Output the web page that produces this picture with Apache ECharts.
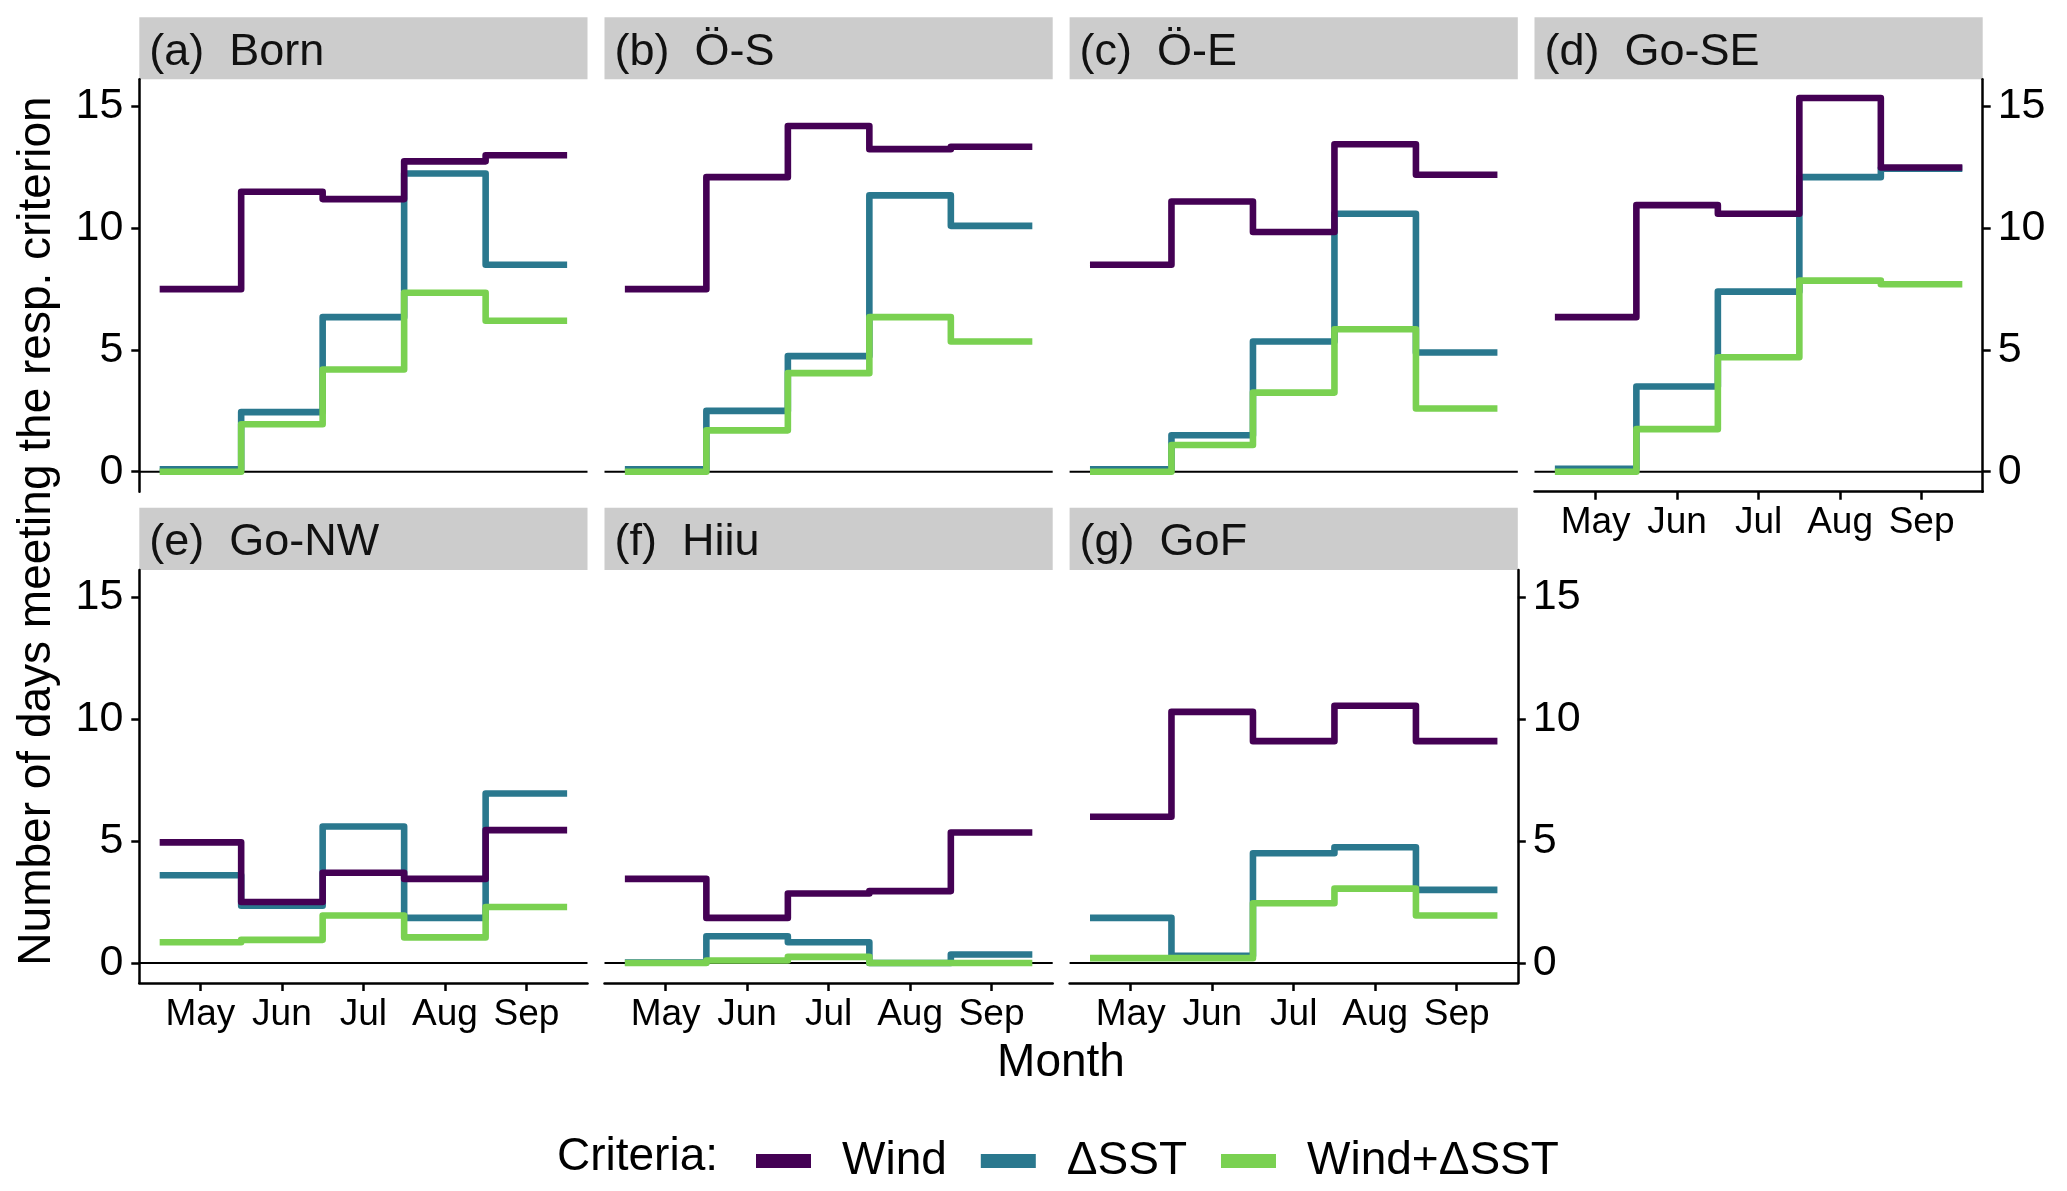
<!DOCTYPE html>
<html><head><meta charset="utf-8">
<script src="https://cdn.jsdelivr.net/npm/echarts@6/dist/echarts.min.js"></script>
<style>html,body{margin:0;padding:0;background:#fff}#c{width:2067px;height:1191px}</style>
</head><body><div id="c"></div>
<script>
// ---------- data ----------
const months = ['May', 'Jun', 'Jul', 'Aug', 'Sep'];
const criteria = ['Wind', 'ΔSST', 'Wind+ΔSST'];
const panelTitles = ['(a)  Born', '(b)  Ö-S', '(c)  Ö-E', '(d)  Go-SE', '(e)  Go-NW', '(f)  Hiiu', '(g)  GoF'];
const yTicks = [0, 5, 10, 15];

const windBorn = [7.5, 11.5, 11.2, 12.75, 13.0];
const sstBorn  = [0.1, 2.45, 6.35, 12.25, 8.5];
const bothBorn = [0, 1.95, 4.2, 7.35, 6.2];

const windOS = [7.5, 12.1, 14.2, 13.25, 13.35];
const sstOS  = [0.1, 2.5, 4.75, 11.35, 10.1];
const bothOS = [0, 1.7, 4.05, 6.35, 5.35];

const windOE = [8.5, 11.1, 9.85, 13.45, 12.2];
const sstOE  = [0.1, 1.5, 5.35, 10.6, 4.9];
const bothOE = [0, 1.1, 3.25, 5.85, 2.6];

const windGoSE = [6.35, 10.95, 10.6, 15.35, 12.5];
const sstGoSE  = [0.12, 3.5, 7.4, 12.1, 12.45];
const bothGoSE = [0, 1.75, 4.7, 7.85, 7.7];

const windGoNW = [4.95, 2.5, 3.7, 3.45, 5.45];
const sstGoNW  = [3.6, 2.35, 5.6, 1.85, 6.95];
const bothGoNW = [0.85, 0.95, 1.95, 1.05, 2.3];

const windHiiu = [3.45, 1.85, 2.85, 2.95, 5.35];
const sstHiiu  = [0.02, 1.1, 0.85, 0, 0.35];
const bothHiiu = [0, 0.1, 0.25, 0, 0];

const windGoF = [6.0, 10.3, 9.1, 10.55, 9.1];
const sstGoF  = [1.85, 0.3, 4.5, 4.75, 3.0];
const bothGoF = [0.2, 0.2, 2.45, 3.05, 1.95];

const windData = [windBorn, windOS, windOE, windGoSE, windGoNW, windHiiu, windGoF];
const sstData  = [sstBorn, sstOS, sstOE, sstGoSE, sstGoNW, sstHiiu, sstGoF];
const bothData = [bothBorn, bothOS, bothOE, bothGoSE, bothGoNW, bothHiiu, bothGoF];

// ---------- style / layout ----------
const colors = { 'Wind': '#440154', 'ΔSST': '#2A788E', 'Wind+ΔSST': '#7AD151' };
const FONT = "'Liberation Sans', Arial, Helvetica, sans-serif";
const colLeft = [139.3, 604.5, 1069.6, 1534.5];
const panelW = 448.2;
const rows = [
  { strip: 17.3, top: 79.3, bottom: 491.7 },
  { strip: 507.7, top: 570, bottom: 983 }
];
const cells = [[0, 0], [0, 1], [0, 2], [0, 3], [1, 0], [1, 1], [1, 2]];
const ySide = ['left', null, null, 'right', 'left', null, 'right'];
const hasX = [false, false, false, true, true, true, true];
const X_MIN = 0.25, X_MAX = 5.75, Y_MIN = -0.82, Y_MAX = 16.12;

function stepPoints(vals) {
  const pts = vals.map((v, i) => [i + 0.5, v]);
  pts.push([vals.length + 0.5, vals[vals.length - 1]]);
  return pts;
}

const grid = [], xAxis = [], yAxis = [], series = [], graphic = [];

cells.forEach(([r, c], p) => {
  const row = rows[r];
  grid.push({ left: colLeft[c], top: row.top, width: panelW, height: row.bottom - row.top,
              containLabel: false, outerBoundsMode: 'none' });

  xAxis.push({
    type: 'value', gridIndex: p, min: X_MIN, max: X_MAX, show: hasX[p],
    axisLine: { show: true, onZero: false, lineStyle: { color: '#000', width: 2.5 } },
    axisTick: { show: true, length: 8, customValues: [1, 2, 3, 4, 5], lineStyle: { color: '#000', width: 2.5 } },
    axisLabel: { show: true, customValues: [1, 2, 3, 4, 5], margin: 13, color: '#000',
                 fontFamily: FONT, fontSize: 37, formatter: v => months[Math.round(v) - 1] },
    splitLine: { show: false }
  });

  const side = ySide[p];
  yAxis.push({
    type: 'value', gridIndex: p, min: Y_MIN, max: Y_MAX, show: !!side, position: side || 'left',
    axisLine: { show: true, onZero: false, lineStyle: { color: '#000', width: 2.5 } },
    axisTick: { show: true, length: 8, customValues: yTicks, lineStyle: { color: '#000', width: 2.5 } },
    axisLabel: { show: true, customValues: yTicks, margin: side === 'right' ? 15 : 16, color: '#000',
                 fontFamily: FONT, fontSize: 43 },
    splitLine: { show: false }
  });

  // zero reference line (under the data lines)
  series.push({
    type: 'line', name: 'zero', xAxisIndex: p, yAxisIndex: p, z: 1, silent: true,
    symbol: 'none', data: [[X_MIN, 0], [X_MAX, 0]],
    lineStyle: { color: '#000', width: 2.2 }, color: '#000', animation: false
  });

  const byName = { 'Wind': windData[p], 'ΔSST': sstData[p], 'Wind+ΔSST': bothData[p] };
  ['ΔSST', 'Wind', 'Wind+ΔSST'].forEach(name => {
    series.push({
      type: 'line', name, xAxisIndex: p, yAxisIndex: p, z: 2, silent: true,
      step: 'end', symbol: 'none', showSymbol: false,
      data: stepPoints(byName[name]),
      color: colors[name], itemStyle: { color: colors[name] },
      lineStyle: { color: colors[name], width: 6.6, join: 'round', cap: 'butt' },
      animation: false
    });
  });

  // strip
  graphic.push({
    type: 'rect', left: colLeft[c], top: row.strip, silent: true,
    shape: { x: 0, y: 0, width: panelW, height: row.top - row.strip },
    style: { fill: '#CCCCCC' }
  });
  graphic.push({
    type: 'text', x: colLeft[c] + 10, y: (row.strip + row.top) / 2 + 4, silent: true,
    style: { text: panelTitles[p], fill: '#111', font: `45px ${FONT}`,
             textAlign: 'left', textVerticalAlign: 'middle' }
  });
});

// axis titles
graphic.push({
  type: 'text', x: 37, y: 531, rotation: Math.PI / 2, silent: true,
  style: { text: 'Number of days meeting the resp. criterion', fill: '#000',
           font: `46px ${FONT}`, textAlign: 'center', textVerticalAlign: 'middle' }
});
graphic.push({
  type: 'text', x: 1061, y: 1063, silent: true,
  style: { text: 'Month', fill: '#000', font: `46px ${FONT}`,
           textAlign: 'center', textVerticalAlign: 'middle' }
});
graphic.push({
  type: 'text', x: 557, y: 1157, silent: true,
  style: { text: 'Criteria:', fill: '#000', font: `46px ${FONT}`,
           textAlign: 'left', textVerticalAlign: 'middle' }
});

const chart = echarts.init(document.getElementById('c'), null, { renderer: 'canvas' });
chart.setOption({
  backgroundColor: '#fff',
  animation: false,
  grid, xAxis, yAxis, series, graphic,
  legend: {
    data: criteria, left: 751, top: 1133, orient: 'horizontal',
    icon: 'rect', itemWidth: 55, itemHeight: 14, itemGap: 34, selectedMode: false,
    textStyle: { fontFamily: FONT, fontSize: 46, color: '#000', padding: [0, 0, 0, 26] }
  }
});
</script></body></html>
